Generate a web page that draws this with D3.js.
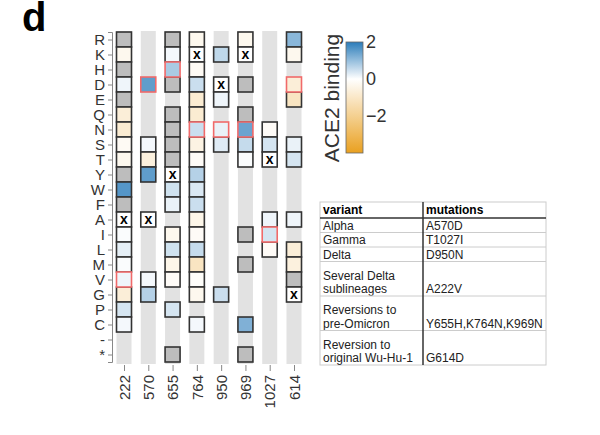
<!DOCTYPE html>
<html>
<head>
<meta charset="utf-8">
<title>ACE2 binding by site</title>
<script src="https://d3js.org/d3.v7.min.js"></script>
<style>
  body { margin: 0; background: #fff; }
  text { font-family: "Liberation Sans", Arial, sans-serif; }
</style>
</head>
<body>
<script>
// rows and columns of the heat map
var aminoAcids = ["R","K","H","D","E","Q","N","S","T","Y","W","F","A","I","L","M","V","G","P","C","-","*"];
var sites = ["222","570","655","764","950","969","1027","614"];
var wildtype = ["A","A","Y","K","D","K","T","G"];     // boxes marked with x
var reported = ["V","D","H","N","N","N","I","D"];     // red outlined boxes

// ACE2 binding per amino acid (same order as aminoAcids)
// NaN = grey box, null = not measured
var s222  = [NaN,-0.3,NaN,0.15,NaN,-0.7,-0.8,-0.2,-0.3,NaN,1.6,NaN,0,0.05,0.25,0.05,0.15,-0.7,0.4,0.1,null,null];
var s570  = [null,null,null,1.5,null,null,null,0.1,-0.6,1.5,null,null,0,null,null,null,0.1,0.7,null,null,null,null];
var s655  = [NaN,0.1,0.8,NaN,null,NaN,NaN,NaN,NaN,0,0.45,0.2,null,-0.3,0.45,-0.4,-0.15,null,0.4,null,null,NaN];
var s764  = [-0.3,0,-0.2,0.5,-0.8,-0.8,0.5,-0.5,-0.15,0.7,0.35,0.5,-0.4,-0.15,0.55,-1.1,-0.1,-0.3,null,0.1,null,null];
var s950  = [null,0.6,null,0,0.15,null,0.2,0.3,null,null,null,null,null,null,null,null,null,0.5,null,null,null,null];
var s969  = [-0.3,0,null,NaN,null,NaN,1.4,0.55,0.05,null,null,null,null,NaN,null,NaN,null,null,null,1.2,null,NaN];
var s1027 = [null,null,null,null,null,null,-0.15,0.4,0,null,null,null,0.15,0.4,-0.15,null,null,null,null,null,null,null];
var s614  = [1.1,-0.3,null,-0.7,-1.1,null,null,0.2,0.4,null,null,null,0.15,null,-0.7,-0.6,NaN,0,null,null,null,null];
var siteValues = [s222, s570, s655, s764, s950, s969, s1027, s614];

var legendTicks = [2, 0, -2];

// table beside the heat map
var variants = [["Alpha"],["Gamma"],["Delta"],["Several Delta","sublineages"],["Reversions to","pre-Omicron"],["Reversion to","original Wu-Hu-1"]];
var mutations = ["A570D","T1027I","D950N","A222V","Y655H,K764N,K969N","G614D"];

var svg = d3.select("body").append("svg")
  .attr("width", 600)
  .attr("height", 435);

svg.append("text")
  .attr("x", 22).attr("y", 31)
  .attr("font-size", 40).attr("font-weight", "bold")
  .text("d");

var x = d3.scalePoint().domain(sites).range([124, 294]);
var y = d3.scalePoint().domain(aminoAcids).range([32, 362]).padding(0.5);
var color = d3.scaleLinear().domain([-4, 0, 2]).range(["#e9a020", "#ffffff", "#2b7cba"]);
var cell = 15;

// grey bands behind each column
svg.append("g").selectAll("rect")
  .data(sites)
  .enter().append("rect")
  .attr("x", function(d) { return x(d) - cell / 2; })
  .attr("y", 31)
  .attr("width", cell)
  .attr("height", 333)
  .attr("fill", "#e2e2e2");

var cells = [];
sites.forEach(function(s, i) {
  aminoAcids.forEach(function(a, j) {
    var v = siteValues[i][j];
    if (v === null) return;
    cells.push({site: s, aa: a, value: v,
      wt: wildtype[i] === a, red: reported[i] === a});
  });
});
cells.sort(function(a, b) { return a.red - b.red; });

var g = svg.append("g");
g.selectAll("rect")
  .data(cells)
  .enter().append("rect")
  .attr("x", function(d) { return x(d.site) - cell / 2; })
  .attr("y", function(d) { return y(d.aa) - cell / 2; })
  .attr("width", cell)
  .attr("height", cell)
  .attr("fill", function(d) {
    if (d.wt) return "#fff";
    if (isNaN(d.value)) return "#bdbdbd";
    return color(d.value);
  })
  .attr("stroke", function(d) { return d.red ? "#f06a6a" : "#333"; })
  .attr("stroke-width", 1.6);

g.selectAll("text")
  .data(cells.filter(function(d) { return d.wt; }))
  .enter().append("text")
  .attr("x", function(d) { return x(d.site); })
  .attr("y", function(d) { return y(d.aa); })
  .attr("dy", "0.32em")
  .attr("text-anchor", "middle")
  .attr("font-size", 14)
  .attr("font-weight", "bold")
  .text("x");

// axes
var yAxis = svg.append("g")
  .attr("transform", "translate(112,0)")
  .call(d3.axisLeft(y).tickSize(4).tickSizeOuter(4).tickPadding(3));
yAxis.selectAll("text").attr("font-size", 15).attr("fill", "#333");
yAxis.selectAll("line, path").attr("stroke", "#888");

var xAxis = svg.append("g")
  .attr("transform", "translate(0,365)")
  .call(d3.axisBottom(x).tickSize(6).tickPadding(4));
xAxis.select(".domain").remove();
xAxis.selectAll("line").attr("stroke", "#888");
xAxis.selectAll("text")
  .attr("font-size", 15).attr("fill", "#333")
  .attr("transform", "rotate(-90)")
  .attr("text-anchor", "end")
  .attr("x", -10).attr("y", 0).attr("dy", "0.35em");

// colour legend
var ly = d3.scaleLinear().domain([-4, 2]).range([153, 42]);
var grad = svg.append("defs").append("linearGradient")
  .attr("id", "ace2").attr("x1", 0).attr("y1", 1).attr("x2", 0).attr("y2", 0);
d3.range(-4, 2.01, 0.5).forEach(function(v) {
  grad.append("stop").attr("offset", (v + 4) / 6).attr("stop-color", color(v));
});
svg.append("rect")
  .attr("x", 346).attr("y", ly(2))
  .attr("width", 17).attr("height", ly(-4) - ly(2))
  .attr("fill", "url(#ace2)")
  .attr("stroke", "#666").attr("stroke-width", 0.8);
svg.append("g").selectAll("text")
  .data(legendTicks)
  .enter().append("text")
  .attr("x", 366)
  .attr("y", function(d) { return ly(d); })
  .attr("dy", "0.35em")
  .attr("font-size", 18).attr("fill", "#333")
  .text(function(d) { return d < 0 ? "\u2212" + Math.abs(d) : d; });
svg.append("text")
  .attr("transform", "translate(339,98) rotate(-90)")
  .attr("text-anchor", "middle")
  .attr("font-size", 21).attr("fill", "#333")
  .text("ACE2 binding");

// table
var tx = 320, tw = 226, divX = 423;
var rowH = variants.map(function(v) { return v.length > 1 ? 34.5 : 14.5; });
var tab = svg.append("g");
var tableTop = 202, headH = 16;
var total = headH + d3.sum(rowH);
tab.append("rect").attr("x", tx).attr("y", tableTop).attr("width", tw).attr("height", total)
  .attr("fill", "none").attr("stroke", "#ccc");
tab.append("text").attr("x", tx + 3).attr("y", tableTop + headH - 4)
  .attr("font-size", 12).attr("font-weight", "bold").text("variant");
tab.append("text").attr("x", divX + 3).attr("y", tableTop + headH - 4)
  .attr("font-size", 12).attr("font-weight", "bold").text("mutations");
var yy = tableTop + headH;
variants.forEach(function(v, i) {
  var bottom = yy + rowH[i];
  v.forEach(function(line, k) {
    tab.append("text").attr("x", tx + 3)
      .attr("y", bottom - 3 - (v.length - 1 - k) * 13.5)
      .attr("font-size", 12).attr("fill", "#222").text(line);
  });
  tab.append("text").attr("x", divX + 3).attr("y", bottom - 3)
    .attr("font-size", 12).attr("fill", "#222").text(mutations[i]);
  if (i < variants.length - 1) {
    tab.append("line").attr("x1", tx).attr("x2", tx + tw).attr("y1", bottom).attr("y2", bottom)
      .attr("stroke", "#ccc");
  }
  yy = bottom;
});
tab.append("line").attr("x1", tx).attr("x2", tx + tw).attr("y1", tableTop + headH).attr("y2", tableTop + headH)
  .attr("stroke", "#333").attr("stroke-width", 1.5);
tab.append("line").attr("x1", divX).attr("x2", divX).attr("y1", tableTop).attr("y2", tableTop + total)
  .attr("stroke", "#333").attr("stroke-width", 1.5);
</script>
</body>
</html>
